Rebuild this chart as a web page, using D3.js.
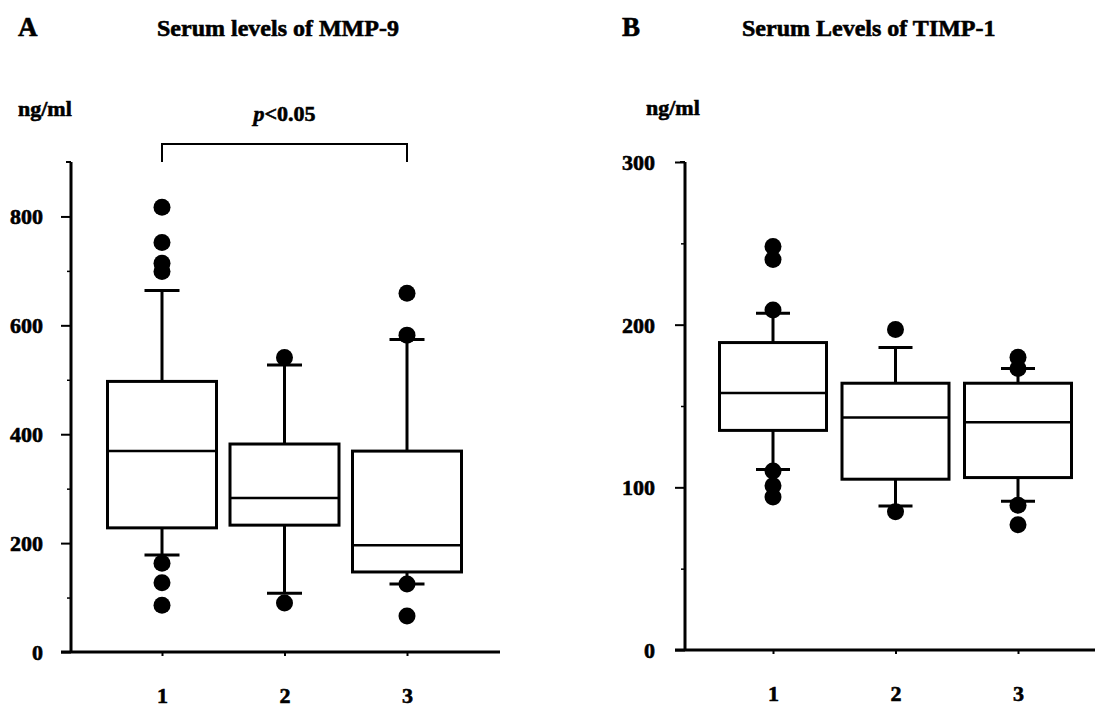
<!DOCTYPE html>
<html>
<head>
<meta charset="utf-8">
<script src="https://cdn.jsdelivr.net/npm/d3@7"></script>
<style>
  body { margin: 0; background: #fff; }
  text { font-family: "Liberation Serif", "Times New Roman", serif; font-weight: bold; fill: #000; stroke: #000; stroke-width: 0.6px; }
</style>
</head>
<body>
<div id="chart"></div>
<script>
// categories shared by both panels
var groups = ["1", "2", "3"];

// panel A : MMP-9 (ng/ml)
var mmpQ1 = [228, 233, 147];
var mmpMedian = [369, 283, 196];
var mmpQ3 = [497, 382, 369];
var mmpLow = [178, 108, 125];
var mmpHigh = [664, 527, 574];
var mmpOutliers = [
  [817, 752, 714, 699, 163, 127, 86],
  [541, 90],
  [659, 582, 125, 66]
];
var mmpTicks = [0, 200, 400, 600, 800];

// panel B : TIMP-1 (ng/ml)
var timpQ1 = [135, 105, 106];
var timpMedian = [158, 143, 140];
var timpQ3 = [189, 164, 164];
var timpLow = [111, 88.5, 91.5];
var timpHigh = [207, 186, 173];
var timpOutliers = [
  [248, 240, 209, 110, 101, 94],
  [197, 85],
  [180, 173, 89, 77]
];
var timpTicks = [0, 100, 200, 300];

var width = 1096, height = 708;

var svg = d3.select("#chart").append("svg")
    .attr("width", width)
    .attr("height", height);

function boxpanel(opt) {
  var g = svg.append("g");

  var y = d3.scaleLinear().domain([0, opt.max]).range([opt.bottom, opt.top]);
  var x = d3.scalePoint().domain(groups).range(opt.xr);

  // y axis, major + minor ticks
  var yAxis = g.append("g")
      .attr("transform", "translate(" + opt.left + ",0)")
      .call(d3.axisLeft(y).tickValues(opt.ticks).tickSize(10).tickSizeOuter(0).tickPadding(opt.pad));
  yAxis.select(".domain").remove();
  yAxis.selectAll("line").attr("stroke", "#000").attr("stroke-width", 2);
  yAxis.selectAll("text").style("font-size", "22px").attr("dy", "0.34em");

  var minor = g.append("g")
      .attr("transform", "translate(" + opt.left + ",0)")
      .call(d3.axisLeft(y).tickValues(opt.minor).tickSize(4).tickFormat(""));
  minor.select(".domain").remove();
  minor.selectAll("line").attr("stroke", "#000").attr("stroke-width", 1.5);

  g.append("line")
      .attr("x1", opt.left).attr("x2", opt.left)
      .attr("y1", y(0)).attr("y2", y(opt.max))
      .attr("stroke", "#000").attr("stroke-width", 3);
  g.append("line")
      .attr("x1", opt.left - 5).attr("x2", opt.left)
      .attr("y1", y(opt.max)).attr("y2", y(opt.max))
      .attr("stroke", "#000").attr("stroke-width", 2);

  // x axis
  var xAxis = g.append("g")
      .attr("transform", "translate(0," + y(0) + ")")
      .call(d3.axisBottom(x).tickSize(4).tickPadding(31));
  xAxis.select(".domain").remove();
  xAxis.selectAll("line").attr("stroke", "#000").attr("stroke-width", 2);
  xAxis.selectAll("text").style("font-size", "22px");

  g.append("line")
      .attr("x1", opt.left - 10).attr("x2", opt.right)
      .attr("y1", y(0)).attr("y2", y(0))
      .attr("stroke", "#000").attr("stroke-width", 3);

  var bw = opt.boxW, cw = opt.capW;
  var rows = groups.map(function (d, i) {
    return { k: d, q1: opt.q1[i], med: opt.med[i], q3: opt.q3[i], lo: opt.lo[i], hi: opt.hi[i], out: opt.out[i] };
  });

  var box = g.selectAll(".box").data(rows).join("g").attr("class", "box");

  // whiskers
  box.append("line")
      .attr("x1", d => x(d.k)).attr("x2", d => x(d.k))
      .attr("y1", d => y(d.hi)).attr("y2", d => y(d.q3))
      .attr("stroke", "#000").attr("stroke-width", 3);
  box.append("line")
      .attr("x1", d => x(d.k)).attr("x2", d => x(d.k))
      .attr("y1", d => y(d.q1)).attr("y2", d => y(d.lo))
      .attr("stroke", "#000").attr("stroke-width", 3);

  box.append("rect")
      .attr("x", d => x(d.k) - bw / 2)
      .attr("width", bw)
      .attr("y", d => y(d.q3))
      .attr("height", d => y(d.q1) - y(d.q3))
      .attr("fill", "#fff")
      .attr("stroke", "#000").attr("stroke-width", 3);

  box.append("line")
      .attr("x1", d => x(d.k) - bw / 2).attr("x2", d => x(d.k) + bw / 2)
      .attr("y1", d => y(d.med)).attr("y2", d => y(d.med))
      .attr("stroke", "#000").attr("stroke-width", 2.5);

  // outliers (drawn before the caps so caps sit on top)
  box.selectAll("circle")
    .data(d => d.out.map(v => ({ k: d.k, v: v })))
    .join("circle")
      .attr("cx", d => x(d.k))
      .attr("cy", d => y(d.v))
      .attr("r", 8.5)
      .attr("fill", "#000");

  box.append("line")
      .attr("x1", d => x(d.k) - cw / 2).attr("x2", d => x(d.k) + cw / 2)
      .attr("y1", d => y(d.hi)).attr("y2", d => y(d.hi))
      .attr("stroke", "#000").attr("stroke-width", 3);
  box.append("line")
      .attr("x1", d => x(d.k) - cw / 2).attr("x2", d => x(d.k) + cw / 2)
      .attr("y1", d => y(d.lo)).attr("y2", d => y(d.lo))
      .attr("stroke", "#000").attr("stroke-width", 3);

  // headings
  g.append("text").attr("x", opt.letterX).attr("y", 36).style("font-size", "27px").text(opt.letter);
  g.append("text").attr("x", opt.titleX).attr("y", 36).style("font-size", "24px").text(opt.title);
  g.append("text").attr("x", opt.unitX).attr("y", opt.unitY).style("font-size", "22px").text("ng/ml");

  return { g: g, x: x, y: y };
}

var A = boxpanel({
  max: 900, top: 162, bottom: 652, left: 71, right: 500, xr: [162, 407], pad: 18,
  ticks: mmpTicks, minor: [100, 300, 500, 700],
  q1: mmpQ1, med: mmpMedian, q3: mmpQ3, lo: mmpLow, hi: mmpHigh, out: mmpOutliers,
  boxW: 109, capW: 35,
  letter: "A", letterX: 18, title: "Serum levels of MMP-9", titleX: 157,
  unitX: 18, unitY: 116
});

var B = boxpanel({
  max: 300, top: 162, bottom: 650, left: 685, right: 1095, xr: [773, 1018], pad: 20,
  ticks: timpTicks, minor: [50, 150, 250],
  q1: timpQ1, med: timpMedian, q3: timpQ3, lo: timpLow, hi: timpHigh, out: timpOutliers,
  boxW: 107, capW: 34,
  letter: "B", letterX: 622, title: "Serum Levels of TIMP-1", titleX: 742,
  unitX: 646, unitY: 115
});

// significance bracket between groups 1 and 3 in panel A
var bx1 = A.x("1"), bx3 = A.x("3");
A.g.append("path")
    .attr("d", "M" + bx1 + ",162V144H" + bx3 + "V162")
    .attr("fill", "none")
    .attr("stroke", "#000").attr("stroke-width", 2);

var ptxt = A.g.append("text")
    .attr("x", (bx1 + bx3) / 2)
    .attr("y", 121)
    .attr("text-anchor", "middle")
    .style("font-size", "22px");
ptxt.append("tspan").style("font-style", "italic").text("p");
ptxt.append("tspan").text("<0.05");
</script>
</body>
</html>
